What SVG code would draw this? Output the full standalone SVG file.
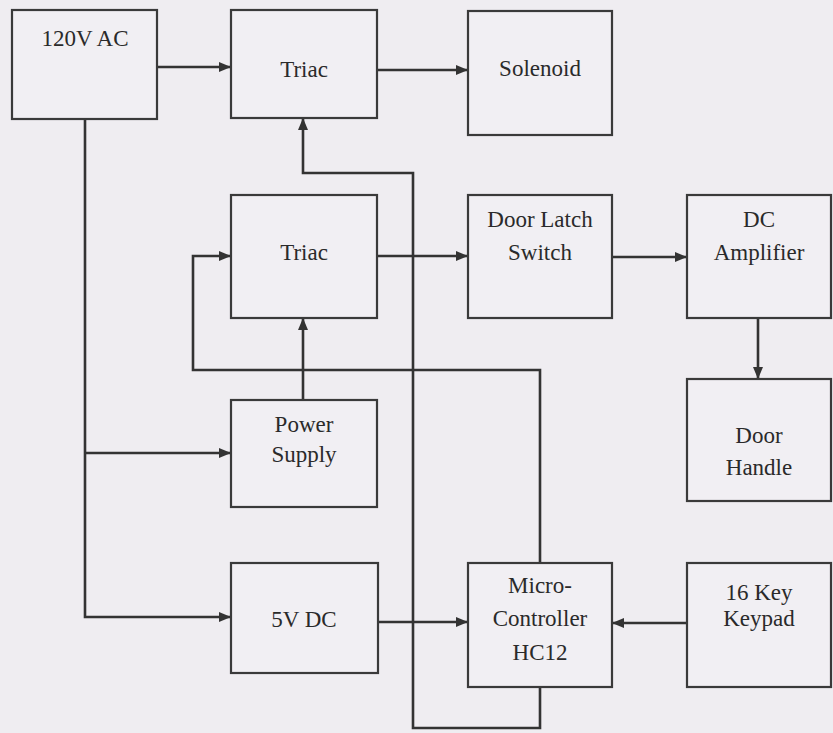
<svg xmlns="http://www.w3.org/2000/svg" width="833" height="733" viewBox="0 0 833 733">
<defs>
<style>
.box{fill:#f1eff3;stroke:#3a3a3a;stroke-width:2.2}
.lbl{font-family:"Liberation Serif",Tinos,"Times New Roman",Times,"Noto Serif","DejaVu Serif",FreeSerif,"Nimbus Roman",serif;font-size:23px;fill:#2a2a2a;text-anchor:middle}
.ln{fill:none;stroke:#333;stroke-width:2.6}
</style>
<marker id="ah" markerWidth="12" markerHeight="10" refX="11" refY="5" orient="auto" markerUnits="userSpaceOnUse">
<path d="M0,0 L12,5 L0,10 z" fill="#333"/>
</marker>
</defs>
<rect width="833" height="733" fill="#efedf1"/>
<g id="connectors">
<path class="ln" d="M157,67 H230" marker-end="url(#ah)"/>
<path class="ln" d="M377,70 H467" marker-end="url(#ah)"/>
<path class="ln" d="M85,119 V617 H230" marker-end="url(#ah)"/>
<path class="ln" d="M85,453 H230" marker-end="url(#ah)"/>
<path class="ln" d="M377,256 H467" marker-end="url(#ah)"/>
<path class="ln" d="M612,257 H686" marker-end="url(#ah)"/>
<path class="ln" d="M758,318 V378" marker-end="url(#ah)"/>
<path class="ln" d="M303,400 V319" marker-end="url(#ah)"/>
<path class="ln" d="M540,563 V370 H193 V256 H230" marker-end="url(#ah)"/>
<path class="ln" d="M540,687 V728 H413 V173 H303 V119" marker-end="url(#ah)"/>
<path class="ln" d="M378,622 H467" marker-end="url(#ah)"/>
<path class="ln" d="M687,623 H613" marker-end="url(#ah)"/>
</g>
<g id="ac120"><rect class="box" x="12" y="10" width="145" height="109"/><text class="lbl" x="85" y="46">120V AC</text></g>
<g id="triac1"><rect class="box" x="231" y="10" width="146" height="108"/><text class="lbl" x="304" y="77">Triac</text></g>
<g id="solenoid"><rect class="box" x="468" y="11" width="144" height="124"/><text class="lbl" x="540" y="76">Solenoid</text></g>
<g id="triac2"><rect class="box" x="231" y="195" width="146" height="123"/><text class="lbl" x="304" y="260">Triac</text></g>
<g id="doorlatch"><rect class="box" x="468" y="195" width="144" height="123"/><text class="lbl" x="540" y="227">Door Latch</text><text class="lbl" x="540" y="260">Switch</text></g>
<g id="dcamp"><rect class="box" x="687" y="195" width="144" height="123"/><text class="lbl" x="759" y="227">DC</text><text class="lbl" x="759" y="260">Amplifier</text></g>
<g id="doorhandle"><rect class="box" x="687" y="379" width="144" height="122"/><text class="lbl" x="759" y="443">Door</text><text class="lbl" x="759" y="475">Handle</text></g>
<g id="powersupply"><rect class="box" x="231" y="400" width="146" height="107"/><text class="lbl" x="304" y="432">Power</text><text class="lbl" x="304" y="462">Supply</text></g>
<g id="dc5v"><rect class="box" x="231" y="563" width="147" height="110"/><text class="lbl" x="304" y="627">5V DC</text></g>
<g id="micro"><rect class="box" x="468" y="563" width="144" height="124"/><text class="lbl" x="540" y="593">Micro-</text><text class="lbl" x="540" y="626">Controller</text><text class="lbl" x="540" y="660">HC12</text></g>
<g id="keypad"><rect class="box" x="687" y="563" width="144" height="124"/><text class="lbl" x="759" y="600">16 Key</text><text class="lbl" x="759" y="626">Keypad</text></g>
</svg>
